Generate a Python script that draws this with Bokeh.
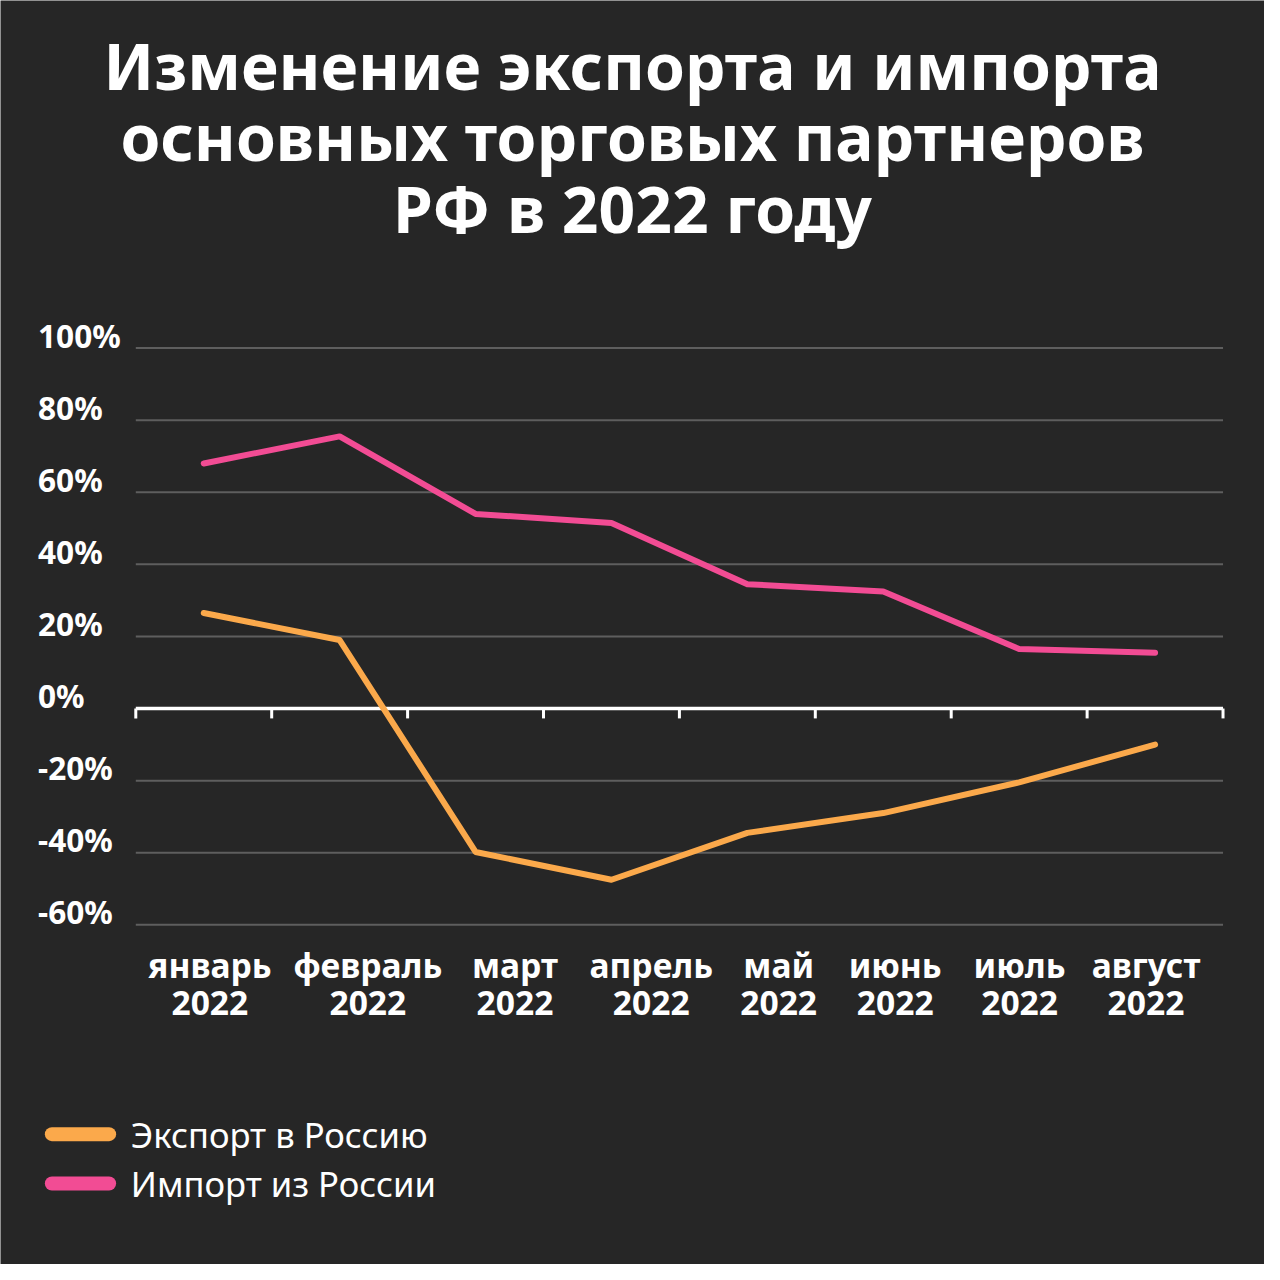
from bokeh.plotting import figure
from bokeh.models import Range1d
from bokeh.core.properties import value
from bokeh.embed import file_html
from bokeh.resources import INLINE

# ---------------- data ----------------
months = ["январь", "февраль", "март", "апрель", "май", "июнь", "июль", "август"]
years = ["2022", "2022", "2022", "2022", "2022", "2022", "2022", "2022"]
export_to_russia = [26.5, 19.0, -39.8, -47.5, -34.5, -29.0, -20.5, -10.0]
import_from_russia = [68.0, 75.5, 54.0, 51.5, 34.5, 32.5, 16.5, 15.5]
y_ticks = [100, 80, 60, 40, 20, 0, -20, -40, -60]
y_tick_labels = ["100%", "80%", "60%", "40%", "20%", "0%", "-20%", "-40%", "-60%"]
title_lines = ["Изменение экспорта и импорта",
               "основных торговых партнеров",
               "РФ в 2022 году"]
series_names = ["Экспорт в Россию", "Импорт из России"]

# ---------------- layout ----------------
W = H = 1264
S = W / 1280.0                              # design grid is 1280 px
L, R, T, B = 137 * S, 1238 * S, 352 * S, 936 * S   # plot area (canvas px)
ux = (R - L) / len(months)                  # px per category
uy = (B - T) / (y_ticks[0] - y_ticks[-1])   # px per percent

def X(px):  # design px -> data x
    return (px * S - L) / ux

def Y(py):  # design px -> data y
    return y_ticks[0] - (py * S - T) / uy

def fs(v):
    return "%.1fpx" % (v * S)

BG = "#262626"
ORANGE = "#FBA94B"
PINK = "#F24C94"
GRID = "#5E5E5E"
WHITE = "#FFFFFF"

p = figure(width=W, height=H, output_backend="svg", toolbar_location=None,
           x_axis_type=None, y_axis_type=None,
           x_range=Range1d(X(0), X(1280)), y_range=Range1d(Y(1280), Y(0)),
           min_border=0, min_border_left=0, min_border_right=0,
           min_border_top=0, min_border_bottom=0)
p.background_fill_color = BG
p.border_fill_color = BG
p.outline_line_color = None
p.grid.visible = False

n = len(months)
xs = [i + 0.5 for i in range(n)]

# grid lines
grid_vals = [v for v in y_ticks if v != 0]
p.segment(x0=[0] * len(grid_vals), x1=[n] * len(grid_vals), y0=grid_vals, y1=grid_vals,
          line_color=GRID, line_width=2)

# zero axis with ticks
p.segment(x0=[0], x1=[n], y0=[0], y1=[0], line_color=WHITE, line_width=3.5)
tick_len = 10 * S / uy
p.segment(x0=list(range(n + 1)), x1=list(range(n + 1)),
          y0=[0] * (n + 1), y1=[-tick_len] * (n + 1), line_color=WHITE, line_width=3)

# series lines
p.line(xs, import_from_russia, line_color=PINK, line_width=6, line_cap="round", line_join="round")
p.line(xs, export_to_russia, line_color=ORANGE, line_width=6, line_cap="round", line_join="round")

# y tick labels (left aligned, sitting just above each grid line)
p.text(x=[X(38)] * len(y_ticks), y=[v + 13 * S / uy for v in y_ticks], text=y_tick_labels,
       text_font=value("Noto Sans"), text_font_style="bold", text_font_size=fs(32),
       text_color=WHITE, text_align="left", text_baseline="middle")

# x tick labels (two lines)
label_px = [212, 372, 521, 659, 788, 906, 1032, 1160]
p.text(x=[X(v) for v in label_px], y=[Y(977)] * n, text=months,
       text_font=value("Noto Sans"), text_font_style="bold", text_font_size=fs(34),
       text_color=WHITE, text_align="center", text_baseline="middle")
p.text(x=[X(v) for v in label_px], y=[Y(1015)] * n, text=years,
       text_font=value("Noto Sans"), text_font_style="bold", text_font_size=fs(34),
       text_color=WHITE, text_align="center", text_baseline="middle")

# title
p.text(x=[X(640)] * 3, y=[Y(65), Y(137), Y(210)], text=title_lines,
       text_font=value("Noto Sans"), text_font_style="bold", text_font_size=fs(65),
       text_color=WHITE, text_align="center", text_baseline="middle")

# legend
p.segment(x0=[X(52), X(52)], x1=[X(110), X(110)], y0=[Y(1148), Y(1198)], y1=[Y(1148), Y(1198)],
          line_color=[ORANGE, PINK], line_width=14, line_cap="round")
p.text(x=[X(132), X(132)], y=[Y(1148), Y(1198)], text=series_names,
       text_font=value("Noto Sans"), text_font_size=fs(35),
       text_color=WHITE, text_align="left", text_baseline="middle")

open("out.html", "w").write(file_html(p, INLINE))
